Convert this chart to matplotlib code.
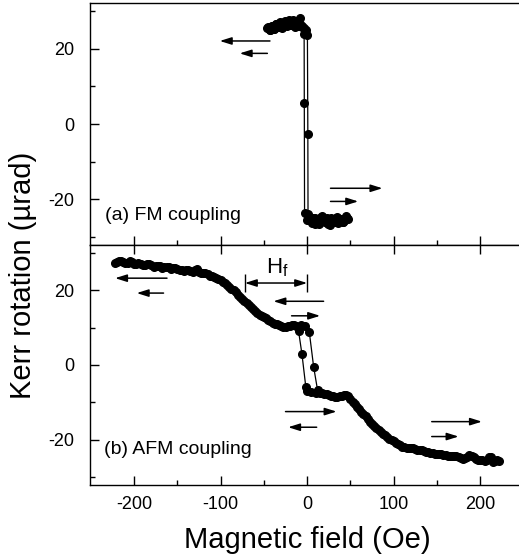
import matplotlib
matplotlib.use('Agg')
import matplotlib.pyplot as plt

plt.rcParams['font.family'] = ['Liberation Sans', 'DejaVu Sans']
plt.rcParams['axes.unicode_minus'] = False

# (a) FM coupling - field sweep up / down (Oe, urad)
fm_h_up = [-46, -43.5, -41, -38.5, -36, -33.5, -31, -28.5, -26, -23.5, -21, -18.5, -16, -13.5,
           -11, -8.5, -6, -3.5, -1.0, 0.3, 0.8, 1.0, 3.5, 6, 8.5, 11, 13.5, 16, 18.5, 21, 23.5,
           26, 28.5, 31, 33.5, 36, 38.5, 41, 43.5, 46]
fm_k_up = [25.6, 25.0, 26.0, 25.4, 26.5, 25.8, 26.8, 25.5, 26.9, 26.0, 27.2, 26.3, 27.0, 27.5,
           26.2, 28.3, 26.1, 25.5, 25.0, 23.6, -2.6, -24.0, -25.2, -26.3, -25.0, -25.8, -26.6,
           -24.8, -25.7, -26.0, -25.1, -26.8, -25.4, -25.9, -24.9, -26.4, -25.3, -26.1, -25.6, -25.0]
fm_h_down = [47, 44.5, 42, 39.5, 37, 34.5, 32, 29.5, 27, 24.5, 22, 19.5, 17, 14.5, 12, 9.5, 7,
             4.5, 2, -0.5, -3.0, -3.3, -3.5, -6, -8.5, -11, -13.5, -16, -18.5, -21, -23.5, -26,
             -28.5, -31, -33.5, -36, -38.5, -41, -43.5, -45]
fm_k_down = [-25.3, -24.6, -26.0, -25.2, -25.9, -24.7, -26.2, -25.5, -24.9, -26.5, -25.3, -25.8,
             -24.6, -26.0, -25.4, -26.7, -25.1, -25.9, -24.8, -25.5, -23.8, 5.5, 24.0, 25.7, 26.6,
             27.0, 25.9, 27.6, 26.4, 27.8, 26.8, 27.3, 26.1, 27.1, 25.7, 26.6, 25.3, 26.2, 25.1, 25.9]

# (b) AFM coupling
afm_h_up = [-222.5, -217.5, -212.5, -207.5, -202.5, -197.5, -192.5, -187.5, -182.5, -177.5,
            -172.5, -167.5, -162.5, -157.5, -152.5, -147.5, -142.5, -137.5, -132.5, -127.5,
            -122.5, -117.5, -112.5, -107.5, -102.5, -97.5, -92.5, -87.5, -82.5, -77.5, -72.5,
            -67.5, -62.5, -57.5, -52.5, -47.5, -42.5, -37.5, -32.5, -27.5, -22.5, -17.5, -12.5,
            -7.5, -2.5, 2.5, 7.5, 12.0, 17.5, 22.5, 27.5, 32.5, 37.5, 42.5, 47.5, 52.5, 57.5,
            62.5, 67.5, 72.5, 77.5, 82.5, 87.5, 92.5, 97.5, 102.5, 107.5, 112.5, 117.5, 122.5,
            127.5, 132.5, 137.5, 142.5, 147.5, 152.5, 157.5, 162.5, 167.5, 172.5, 177.5, 182.5,
            187.5, 192.5, 197.5, 202.5, 207.5, 212.5, 217.5, 222.0]
afm_k_up = [27.5, 27.9, 27.6, 27.3, 27.6, 27.0, 27.2, 26.8, 27.0, 26.4, 26.6, 26.1, 26.3, 25.8,
            26.0, 25.4, 25.3, 25.6, 25.0, 25.8, 24.7, 24.6, 24.0, 23.7, 23.1, 22.4, 21.6, 20.5,
            19.5, 18.2, 17.1, 16.1, 15.0, 14.0, 13.1, 12.5, 11.7, 11.1, 10.6, 10.3, 10.4, 10.7,
            10.5, 10.6, 10.5, 8.8, -0.5, -6.7, -7.4, -7.9, -8.3, -8.5, -8.4, -8.0, -8.4, -9.8,
            -11.2, -12.6, -13.8, -15.2, -16.4, -17.5, -18.5, -19.3, -20.2, -20.9, -21.5, -22.0,
            -22.3, -22.4, -22.7, -22.9, -23.3, -23.5, -23.8, -23.9, -24.1, -24.3, -24.5, -24.4,
            -25.0, -24.9, -24.2, -24.8, -25.4, -25.6, -25.5, -24.6, -25.8, -25.7]
afm_h_down = [220, 215, 210, 205, 200, 195, 190, 185, 180, 175, 170, 165, 160, 155, 150, 145,
              140, 135, 130, 125, 120, 115, 110, 105, 100, 95, 90, 85, 80, 75, 70, 65, 60, 55,
              50, 45, 40, 35, 30, 25, 20, 15, 10, 5, 0, -1.5, -6, -10, -15, -20, -25, -30, -35,
              -40, -45, -50, -55, -60, -65, -70, -75, -80, -85, -90, -95, -100, -105, -110, -115,
              -120, -125, -130, -135, -140, -145, -150, -155, -160, -165, -170, -175, -180, -185,
              -190, -195, -200, -205, -210, -215, -220]
afm_k_down = [-25.6, -25.9, -24.8, -25.7, -25.5, -25.3, -24.3, -24.6, -25.1, -24.8, -24.3, -24.4,
              -24.2, -24.0, -23.8, -23.7, -23.4, -23.1, -22.8, -22.5, -22.4, -22.2, -21.9, -21.2,
              -20.5, -19.8, -18.9, -18.0, -17.0, -15.8, -14.5, -13.2, -11.8, -10.6, -9.0, -8.1,
              -8.3, -8.6, -8.4, -8.1, -7.8, -7.6, -7.4, -7.2, -7.0, -6.0, 2.9, 9.2, 10.6, 10.5,
              10.3, 10.4, 10.9, 11.4, 12.1, 12.8, 13.5, 14.5, 15.6, 16.6, 17.6, 18.8, 20.0, 21.0,
              22.0, 22.7, 23.4, 23.8, 24.4, 24.6, 25.0, 25.5, 25.1, 25.6, 25.4, 25.8, 25.9, 26.3,
              26.2, 26.7, 26.5, 26.8, 27.1, 26.9, 27.4, 27.2, 27.8, 27.5, 27.9, 27.6]

# sweep arrows: (start field, end field, kerr level)
fm_arrows = [(-43, -101, 22.1), (-46, -78, 18.8), (27, 87, -17.1), (27, 59, -20.6)]
afm_arrows = [(-162, -222, 23.3), (-166, -197, 19.3), (19, -39, 17.1), (-18, 15, 13.2),
              (-25, 34, -12.5), (11, -22, -16.7), (144, 202, -15.2), (144, 175, -19.2)]
hf_range = (-72, 0)

fig = plt.figure(figsize=(5.19, 5.59), dpi=100)
ax1 = fig.add_axes([0.1734, 0.5617, 0.8285, 0.4329])
ax2 = fig.add_axes([0.1734, 0.1324, 0.8285, 0.4293])

for ax in (ax1, ax2):
    ax.set_xlim(-251, 246)
    ax.set_ylim(-32.2, 32.2)
    ax.set_xticks([-200, -100, 0, 100, 200])
    ax.set_xticks([-150, -50, 50, 150], minor=True)
    ax.set_yticks([-20, 0, 20])
    ax.set_yticks([-30, -10, 10, 30], minor=True)
    ax.tick_params(which='both', direction='in', width=1.0, labelsize=13)
    ax.tick_params(which='major', length=6.5)
    ax.tick_params(which='minor', length=3.5)
    ax.tick_params(axis='y', pad=11)
    ax.tick_params(axis='x', pad=8)
    for s in ax.spines.values():
        s.set_linewidth(1.0)
    ax.spines['right'].set_visible(False)

ax1.tick_params(labelbottom=False)
ax2.tick_params(top=True)

ax1.plot(fm_h_up, fm_k_up, 'o-', color='black', ms=5.5, lw=0.9)
ax1.plot(fm_h_down, fm_k_down, 'o-', color='black', ms=5.5, lw=0.9)
ax2.plot(afm_h_up, afm_k_up, 'o-', color='black', ms=5.5, lw=0.9)
ax2.plot(afm_h_down, afm_k_down, 'o-', color='black', ms=5.5, lw=0.9)

arrow_style = dict(arrowstyle='-|>,head_length=0.7,head_width=0.22', color='black',
                   lw=1.1, shrinkA=0, shrinkB=0)
for ax, arrows in ((ax1, fm_arrows), (ax2, afm_arrows)):
    for x0, x1, y in arrows:
        ax.annotate('', xy=(x1, y), xytext=(x0, y), arrowprops=arrow_style)

# H_f bracket
ax2.annotate('', xy=(hf_range[0], 22), xytext=(hf_range[1], 22),
             arrowprops=dict(arrowstyle='<|-|>,head_length=0.7,head_width=0.22', color='black',
                             lw=1.1, shrinkA=0, shrinkB=0))
ax2.vlines(hf_range, 19.5, 24.3, color='black', lw=1.0)
ax2.text(-48, 26.2, 'H$_{\\mathregular{f}}$', fontsize=16, ha='left', va='center')

ax1.text(-234, -24.3, '(a) FM coupling', fontsize=14, ha='left', va='center')
ax2.text(-235, -22.8, '(b) AFM coupling', fontsize=14, ha='left', va='center')

fig.text(23 / 519, 1 - 275 / 559, 'Kerr rotation (µrad)', rotation=90, fontsize=21,
         ha='center', va='center')
fig.text(307 / 519, 1 - 548 / 559, 'Magnetic field (Oe)', fontsize=21,
         ha='center', va='baseline')

fig.savefig('out.png', dpi=100)
